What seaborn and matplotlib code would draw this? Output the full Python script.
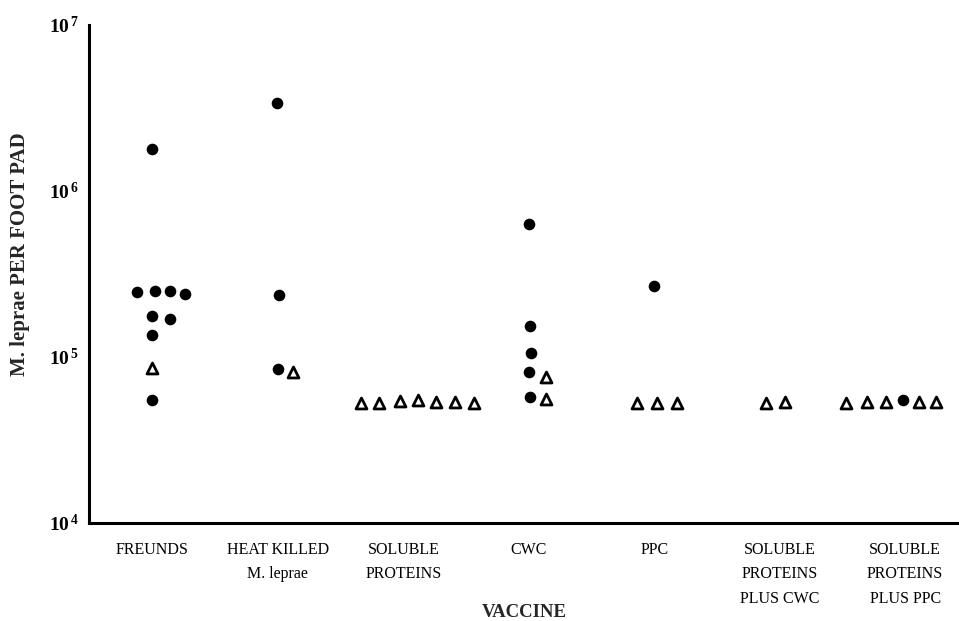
import pandas as pd
import matplotlib
matplotlib.use('Agg')
import matplotlib.pyplot as plt
import seaborn as sns

# Vaccine groups (x axis)
vaccines = ['FREUNDS', 'HEAT KILLED\nM. leprae', 'SOLUBLE\nPROTEINS', 'CWC', 'PPC',
            'SOLUBLE\nPROTEINS\nPLUS CWC', 'SOLUBLE\nPROTEINS\nPLUS PPC']

# filled circles: group index, M. leprae per foot pad, horizontal spread within group
dot_group = [0, 0, 0, 0, 0, 0, 0, 0, 0,
             1, 1, 1,
             3, 3, 3, 3, 3,
             4,
             6]
dot_value = [1.79e6, 2.45e5, 2.5e5, 2.48e5, 2.4e5, 1.77e5, 1.69e5, 1.36e5, 5.5e4,
             3.39e6, 2.36e5, 8.5e4,
             6.3e5, 1.54e5, 1.06e5, 8.1e4, 5.74e4,
             2.68e5,
             5.5e4]
dot_spread = [0, -0.12, 0.02, 0.14, 0.26, 0, 0.14, 0, 0,
              -0.01, 0.01, 0,
              0, 0.01, 0.02, 0, 0.01,
              0,
              -0.02]

# open triangles
tri_group = [0,
             1,
             2, 2, 2, 2, 2, 2, 2,
             3, 3,
             4, 4, 4,
             5, 5,
             6, 6, 6, 6, 6]
tri_value = [8.6e4,
             8.1e4,
             5.28e4, 5.28e4, 5.43e4, 5.51e4, 5.36e4, 5.36e4, 5.28e4,
             7.6e4, 5.58e4,
             5.28e4, 5.28e4, 5.28e4,
             5.28e4, 5.36e4,
             5.28e4, 5.36e4, 5.36e4, 5.36e4, 5.36e4]
tri_spread = [0,
              0.12,
              -0.34, -0.19, -0.03, 0.12, 0.26, 0.41, 0.56,
              0.14, 0.14,
              -0.14, 0.02, 0.18,
              -0.11, 0.04,
              -0.47, -0.30, -0.15, 0.11, 0.25]

dots = pd.DataFrame({'x': [g + s for g, s in zip(dot_group, dot_spread)], 'y': dot_value})
tris = pd.DataFrame({'x': [g + s for g, s in zip(tri_group, tri_spread)], 'y': tri_value})

sns.set_style('white')
plt.rcParams['font.family'] = ['Liberation Serif', 'DejaVu Serif']
plt.rcParams['mathtext.fontset'] = 'custom'
plt.rcParams['mathtext.bf'] = 'Liberation Serif:bold'
plt.rcParams['mathtext.rm'] = 'Liberation Serif'

fig = plt.figure(figsize=(9.59, 6.21), dpi=100)
ax = fig.add_axes([0.0928, 0.158, 0.9072, 0.802])

sns.scatterplot(data=dots, x='x', y='y', ax=ax, marker='o', s=70,
                color='black', edgecolor='black', linewidth=0)
sns.scatterplot(data=tris, x='x', y='y', ax=ax, marker='^', s=62,
                facecolor='white', edgecolor='black', linewidth=2.0)

ax.set_yscale('log')
ax.set_ylim(1e4, 1e7)
ax.set_xlim(-0.506, 6.43)
ax.minorticks_off()

ax.set_yticks([1e4, 1e5, 1e6, 1e7])
ax.set_yticklabels([r'$\mathbf{10^{\,4}}$', r'$\mathbf{10^{\,5}}$',
                    r'$\mathbf{10^{\,6}}$', r'$\mathbf{10^{\,7}}$'], fontsize=14)
ax.set_xticks(range(len(vaccines)))
ax.set_xticklabels(vaccines, fontsize=11.5, linespacing=1.68)

ax.tick_params(axis='y', direction='in', length=7, width=1.6, pad=7, colors='black')
ax.tick_params(axis='x', direction='out', length=7, width=1.6, pad=7, colors='black')

for side in ['top', 'right']:
    ax.spines[side].set_visible(False)
for side in ['left', 'bottom']:
    ax.spines[side].set_linewidth(2.2)
    ax.spines[side].set_color('black')

ax.set_ylabel('M. leprae PER FOOT PAD', fontsize=15, fontweight='bold')
ax.yaxis.set_label_coords(-0.068, 0.54)
ax.set_xlabel('VACCINE', fontsize=13.5, fontweight='bold')
ax.xaxis.set_label_coords(0.5, -0.163)

fig.savefig('out.png', dpi=100)
